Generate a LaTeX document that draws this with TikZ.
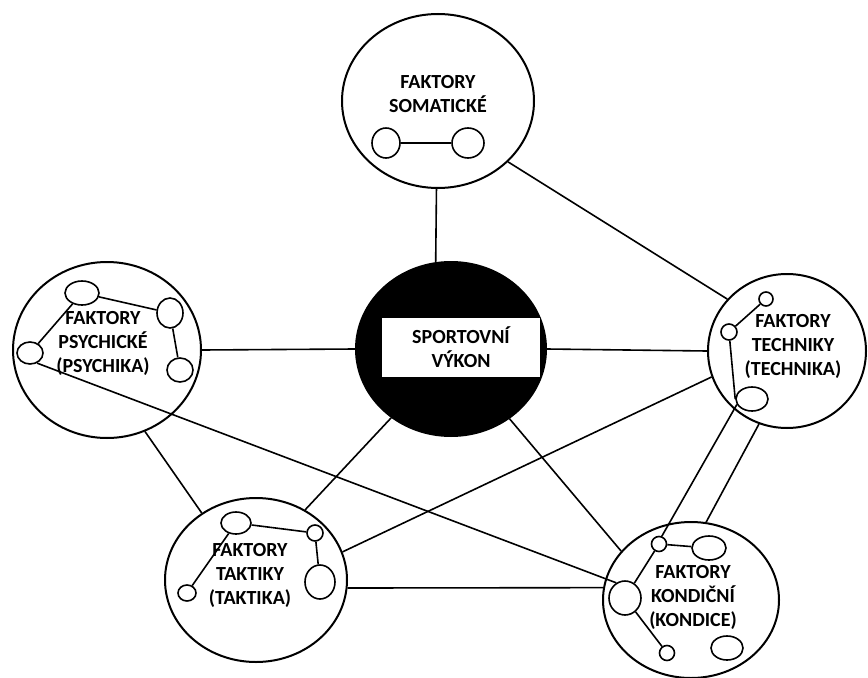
\documentclass[tikz,border=0pt]{standalone}
\usepackage{fontspec}
\setmainfont{Carlito}
\usepackage{tikz}
\usetikzlibrary{shapes.geometric}

\begin{document}
\begin{tikzpicture}[x=0.75pt,y=0.75pt,yscale=-1,xscale=1,
  outer/.style={draw, ellipse, line width=1.5pt, inner sep=0pt},
  sub/.style={draw, ellipse, line width=1.2pt, inner sep=0pt},
  lbl/.style={inner sep=0.75pt, align=center, font=\fontsize{15}{18}\selectfont\bfseries},
  link/.style={line width=1.2pt}]
%set diagram size
\useasboundingbox (0,0) rectangle (868,678);

%Ellipse
\draw (451,349) node [outer, fill=black, minimum width=142.5pt, minimum height=130.5pt] (ctr) {};
% Text Node
\draw (461,347.5) node [lbl, fill=white, minimum width=118.5pt, minimum height=44.25pt] (vykon) {SPORTOVNÍ\\VÝKON};

%Ellipse
\draw (438,101) node [outer, minimum width=144pt, minimum height=130.5pt] (som) {};
% Text Node
\draw (438,94) node [lbl] (somT) {FAKTORY\\SOMATICKÉ};
%Ellipse
\draw (386,143) node [sub, minimum width=21pt, minimum height=22.5pt] (somL) {};
%Ellipse
\draw (468,143) node [sub, minimum width=24pt, minimum height=22.5pt] (somR) {};

%Ellipse
\draw (107,350) node [outer, minimum width=141pt, minimum height=132pt] (psy) {};
% Text Node
\draw (103,343.5) node [lbl] (psyT) {FAKTORY\\PSYCHICKÉ\\(PSYCHIKA)};
%Ellipse
\draw (82,293) node [sub, minimum width=25.5pt, minimum height=18pt] (psyA) {};
%Ellipse
\draw (170,313) node [sub, minimum width=19.5pt, minimum height=22.5pt] (psyB) {};
%Ellipse
\draw (180,370) node [sub, minimum width=19.5pt, minimum height=18pt] (psyC) {};
%Ellipse
\draw (30,353) node [sub, minimum width=19.5pt, minimum height=16.5pt] (psyD) {};

%Ellipse
\draw (787,351) node [outer, minimum width=118.5pt, minimum height=115.5pt] (tech) {};
% Text Node
\draw (793,346.5) node [lbl] (techT) {FAKTORY\\TECHNIKY\\(TECHNIKA)};
%Ellipse
\draw (766,299) node [sub, minimum width=10.5pt, minimum height=10.5pt] (techA) {};
%Ellipse
\draw (729,332) node [sub, minimum width=12pt, minimum height=12pt] (techB) {};
%Ellipse
\draw (752,399) node [sub, minimum width=24pt, minimum height=18pt] (techC) {};

%Ellipse
\draw (256,580) node [outer, minimum width=136.5pt, minimum height=123pt] (tak) {};
% Text Node
\draw (250,575) node [lbl] (takT) {FAKTORY\\TAKTIKY\\(TAKTIKA)};
%Ellipse
\draw (236,523) node [sub, minimum width=22.5pt, minimum height=16.5pt] (takA) {};
%Ellipse
\draw (315,533) node [sub, minimum width=12pt, minimum height=12pt] (takB) {};
%Ellipse
\draw (320,582) node [sub, minimum width=22.5pt, minimum height=25.5pt] (takC) {};
%Ellipse
\draw (187,593) node [sub, minimum width=13.5pt, minimum height=12pt] (takD) {};

%Ellipse
\draw (691,600) node [outer, minimum width=132pt, minimum height=117pt] (kon) {};
% Text Node
\draw (693,597) node [lbl] (konT) {FAKTORY\\KONDIČNÍ\\(KONDICE)};
%Ellipse
\draw (659,544) node [sub, minimum width=11.25pt, minimum height=11.25pt] (konA) {};
%Ellipse
\draw (709,548) node [sub, minimum width=25.5pt, minimum height=18pt] (konB) {};
%Ellipse
\draw (625,598) node [sub, minimum width=24pt, minimum height=25.5pt] (konC) {};
%Ellipse
\draw (667,653) node [sub, minimum width=11.25pt, minimum height=11.25pt] (konD) {};
%Ellipse
\draw (727,648) node [sub, minimum width=24pt, minimum height=18pt] (konE) {};

%Straight Lines
\draw [link] (som.-91) -- (ctr.100) ;
\draw [link] (som.-41) -- (tech.139) ;
\draw [link] (psy.east) -- (ctr.west) ;
\draw [link] (ctr.east) -- (tech.west) ;
\draw [link] (psy.-65) -- (tak.129) ;
\draw [link] (ctr.-131) -- (tak.55) ;
\draw [link] (ctr.-50) -- (kon.145) ;
\draw [link] (tak.18) -- (tech.-161) ;
\draw [link] (tak.-5) -- (kon.172) ;
\draw [link] (psyD.-55) -- (konC.120) ;
\draw [link] (techC.200) -- (konA.70) ;
\draw [link] (tech.-111) -- (kon.79) ;

%Straight Lines
\draw [link] (somL) -- (somR) ;
\draw [link] (psyA) -- (psyB) ;
\draw [link] (psyB) -- (psyC) ;
\draw [link] (psyA) -- (psyD) ;
\draw [link] (techA) -- (techB) ;
\draw [link] (techB) -- (techC.west) ;
\draw [link] (takA) -- (takB) ;
\draw [link] (takB) -- (takC) ;
\draw [link] (takA) -- (takD) ;
\draw [link] (konA) -- (konB) ;
\draw [link] (konA) -- (konC) ;
\draw [link] (konC) -- (konD) ;

\end{tikzpicture}
\end{document}
